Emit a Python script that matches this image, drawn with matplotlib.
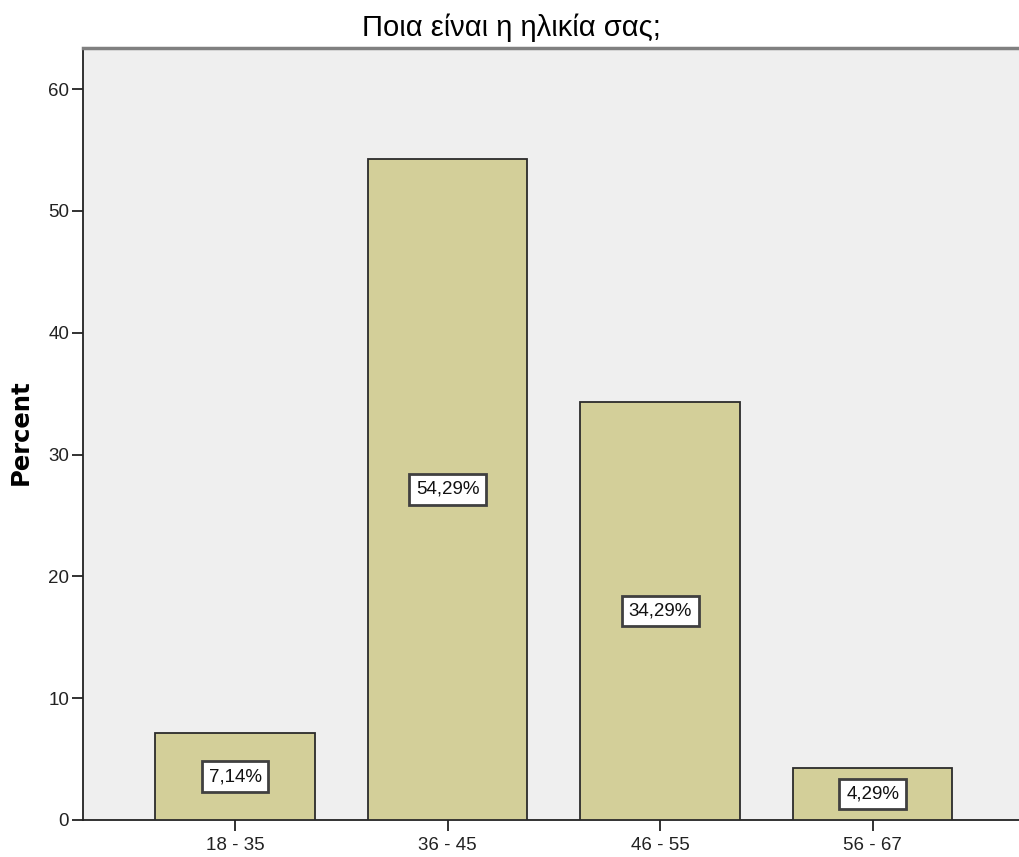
import matplotlib
matplotlib.use("Agg")
import matplotlib.pyplot as plt
import numpy as np

# ── data ──────────────────────────────────────────────────────────────────────
categories = ["18 - 35", "36 - 45", "46 - 55", "56 - 67"]
percent    = [7.14, 54.29, 34.29, 4.29]
labels     = ["7,14%", "54,29%", "34,29%", "4,29%"]
title      = "Ποια είναι η ηλικία σας;"

# ── style ─────────────────────────────────────────────────────────────────────
plt.rcParams["font.family"] = ["Liberation Sans", "DejaVu Sans"]
BAR_COLOR = "#D3CF99"
BG_COLOR  = "#EFEFEF"

fig = plt.figure(figsize=(10.19, 8.57), dpi=100)
ax = fig.add_axes([83/1019, 37/857, 1 - 83/1019, 772/857])
ax.set_facecolor(BG_COLOR)

x = np.arange(len(categories))
ax.bar(x, percent, width=0.75, color=BAR_COLOR, edgecolor="#2b2b2b",
       linewidth=1.3, zorder=3)

for xi, val, lab in zip(x, percent, labels):
    ax.text(xi, val / 2, lab, ha="center", va="center", fontsize=13.5,
            zorder=4, color="#111111",
            bbox=dict(boxstyle="square,pad=0.36", facecolor="white",
                      edgecolor="#404040", linewidth=2.0))

ax.set_xlim(-0.716, -0.716 + (1019 - 83) / 212.5)
ax.set_ylim(0, 772 / 12.18)
ax.set_yticks([0, 10, 20, 30, 40, 50, 60])
ax.set_xticks(x)
ax.set_xticklabels(categories)
ax.tick_params(axis="both", length=8, width=1.3, color="#222222",
               labelsize=13.5, labelcolor="#222222")
ax.tick_params(axis="y", pad=2)
ax.tick_params(axis="x", pad=4)

for side in ["left", "bottom"]:
    ax.spines[side].set_color("#222222")
    ax.spines[side].set_linewidth(1.3)
ax.spines["right"].set_visible(False)
ax.spines["top"].set_color("#808080")
ax.spines["top"].set_linewidth(2.5)

fig.text(21 / 1019, 1 - 432 / 857, "Percent", rotation=90, ha="center",
         va="center", fontsize=17.5, fontweight="bold", family="DejaVu Sans")
fig.text(511 / 1019, 1 - 28 / 857, title, ha="center", va="center",
         fontsize=21)

fig.savefig("out.png", dpi=100)
